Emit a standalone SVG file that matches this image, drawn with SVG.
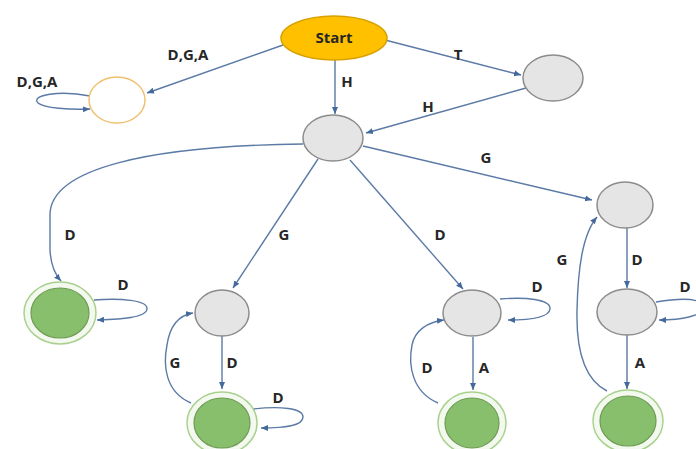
<svg xmlns="http://www.w3.org/2000/svg" width="696" height="449" viewBox="0 0 696 449">
<defs>
<marker id="ah" markerWidth="8" markerHeight="8" refX="7" refY="4" orient="auto" markerUnits="userSpaceOnUse">
<path d="M0,1 L7,4 L0,7 Z" fill="#44699c"/>
</marker>
<style>
.e{fill:none;stroke:#5b7aa6;stroke-width:1.4;marker-end:url(#ah)}
.g{fill:#e6e5e5;stroke:#8c8c8c;stroke-width:1.5}
.go{fill:#f3f9ee;stroke:#a9d18e;stroke-width:1.5}
.gi{fill:#88bf6c;stroke:#6e9c55;stroke-width:1.2}
.t{font-family:"Open Sans","Liberation Sans",sans-serif;font-weight:bold;font-size:15px;fill:#262626;text-anchor:middle}
</style>
</defs>
<rect width="696" height="449" fill="#fff"/>
<g id="connectors">
<path class="e" d="M283,45 L147,93"/>
<path class="e" d="M90,96 C60,90 30,95 38,103 C44,108 70,110 90,109"/>
<path class="e" d="M335,59 L335,114"/>
<path class="e" d="M385,40 L521,75"/>
<path class="e" d="M526,88 L366,133"/>
<path class="e" d="M363,146 L592,200"/>
<path class="e" d="M303,144 C150,146 50,168 50,215 L50,250 Q51,270 61,281"/>
<path class="e" d="M94,300 C120,298 148,300 147,309 C146,318 120,319 97,320"/>
<path class="e" d="M318,159 L233,288"/>
<path class="e" d="M350,160 L463,289"/>
<path class="e" d="M222,336 L222,389"/>
<path class="e" d="M191,403 C165,392 163,365 167,345 C170,325 180,315 193,313"/>
<path class="e" d="M253,409 C280,406 303,408 303,417 C303,426 285,428 261,428"/>
<path class="e" d="M473,337 L473,390"/>
<path class="e" d="M438,403 C412,392 408,365 412,345 C415,330 428,322 444,320"/>
<path class="e" d="M500,299 C525,297 551,299 550,309 C549,318 530,320 508,320"/>
<path class="e" d="M627,228 L627,288"/>
<path class="e" d="M656,302 C680,298 700,298 704,306 C705,316 680,320 659,320"/>
<path class="e" d="M627,335 L627,389"/>
<path class="e" d="M607,391 C585,380 576,350 577,310 C578,270 582,235 597,217"/>
</g>
<g id="n_start"><ellipse cx="334" cy="38" rx="53" ry="22" fill="#ffc000" stroke="#d9a100" stroke-width="1.5"/><text class="t" x="334" y="43">Start</text></g>
<g id="n_dead"><ellipse cx="117" cy="100" rx="28" ry="23" fill="#fff" stroke="#f0c070" stroke-width="1.5"/></g>
<g id="n_t"><ellipse cx="553" cy="78" rx="30" ry="23" class="g"/></g>
<g id="n_h"><ellipse cx="333" cy="138" rx="30" ry="23" class="g"/></g>
<g id="n_g"><ellipse cx="625" cy="205" rx="28" ry="23" class="g"/></g>
<g id="n_f1"><ellipse cx="60" cy="313" rx="36" ry="31" class="go"/><ellipse cx="60" cy="313" rx="29" ry="25" class="gi"/></g>
<g id="n_2"><ellipse cx="222" cy="313" rx="27" ry="23" class="g"/></g>
<g id="n_f2"><ellipse cx="222" cy="423" rx="35" ry="31" class="go"/><ellipse cx="222" cy="423" rx="28" ry="25" class="gi"/></g>
<g id="n_3"><ellipse cx="472" cy="313" rx="29" ry="23" class="g"/></g>
<g id="n_f3"><ellipse cx="472" cy="423" rx="34" ry="31" class="go"/><ellipse cx="472" cy="423" rx="27" ry="25" class="gi"/></g>
<g id="n_5"><ellipse cx="627" cy="312" rx="30" ry="23" class="g"/></g>
<g id="n_f4"><ellipse cx="628" cy="421" rx="35" ry="31" class="go"/><ellipse cx="628" cy="421" rx="28" ry="25" class="gi"/></g>
<g id="labels">
<text class="t" x="188" y="60">D,G,A</text>
<text class="t" x="37" y="87">D,G,A</text>
<text class="t" x="347" y="87">H</text>
<text class="t" x="458" y="60">T</text>
<text class="t" x="428" y="112">H</text>
<text class="t" x="486" y="163">G</text>
<text class="t" x="70" y="240">D</text>
<text class="t" x="284" y="240">G</text>
<text class="t" x="440" y="240">D</text>
<text class="t" x="562" y="265">G</text>
<text class="t" x="123" y="290">D</text>
<text class="t" x="537" y="292">D</text>
<text class="t" x="637" y="265">D</text>
<text class="t" x="685" y="292">D</text>
<text class="t" x="175" y="368">G</text>
<text class="t" x="232" y="368">D</text>
<text class="t" x="427" y="373">D</text>
<text class="t" x="484" y="373">A</text>
<text class="t" x="640" y="368">A</text>
<text class="t" x="278" y="403">D</text>
</g>
</svg>
